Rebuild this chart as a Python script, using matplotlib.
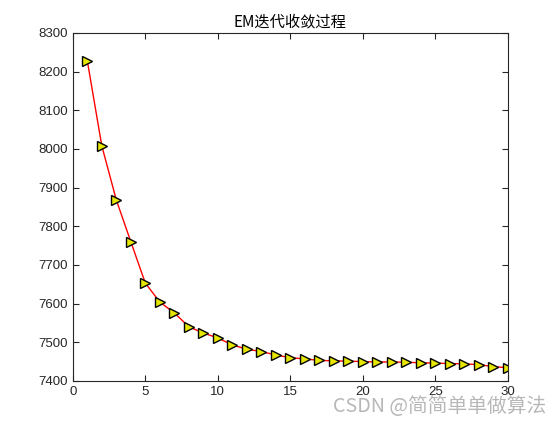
import matplotlib
matplotlib.use("Agg")
import matplotlib.pyplot as plt

plt.rcParams['font.family'] = ['Liberation Sans', 'Noto Sans CJK SC', 'DejaVu Sans']

# ---------------- Data ----------------
iters = list(range(1, 31))
loglik = [8228, 8008, 7868, 7760, 7653, 7604, 7576, 7540, 7524, 7511,
          7493, 7482, 7476, 7467, 7460, 7457, 7453, 7452, 7451, 7450,
          7449, 7449, 7448, 7447, 7446, 7445, 7444, 7442, 7437, 7434]

xticks = [0, 5, 10, 15, 20, 25, 30]
yticks = list(range(7400, 8301, 100))

# ---------------- Plot ----------------
fig = plt.figure(figsize=(5.6, 4.28), dpi=100)
ax = fig.add_axes([0.130, 0.110, 0.777, 0.813])

ax.plot(iters, loglik, color='red', linewidth=1.0, marker='>',
        markersize=7.5, markerfacecolor='#e6e600', markeredgecolor='black',
        markeredgewidth=1.0)

ax.set_xlim(0, 30)
ax.set_ylim(7400, 8300)
ax.set_xticks(xticks)
ax.set_yticks(yticks)
ax.tick_params(direction='in', length=4, width=0.8, labelsize=9.5,
               colors='#262626', top=True, right=True,
               labeltop=False, labelright=False)
for sp in ax.spines.values():
    sp.set_linewidth(0.8)
    sp.set_color('#262626')

ax.set_title('EM迭代收敛过程', fontsize=11, family=['Noto Sans CJK SC', 'DejaVu Sans'], pad=5)

# watermark
fig.text(0.975, 0.025, 'CSDN @简简单单做算法', ha='right', va='bottom',
         fontsize=14.2, color='#b0b0b0', alpha=0.9,
         family=['Noto Sans CJK SC', 'DejaVu Sans'])

fig.savefig('out.png', dpi=100)
